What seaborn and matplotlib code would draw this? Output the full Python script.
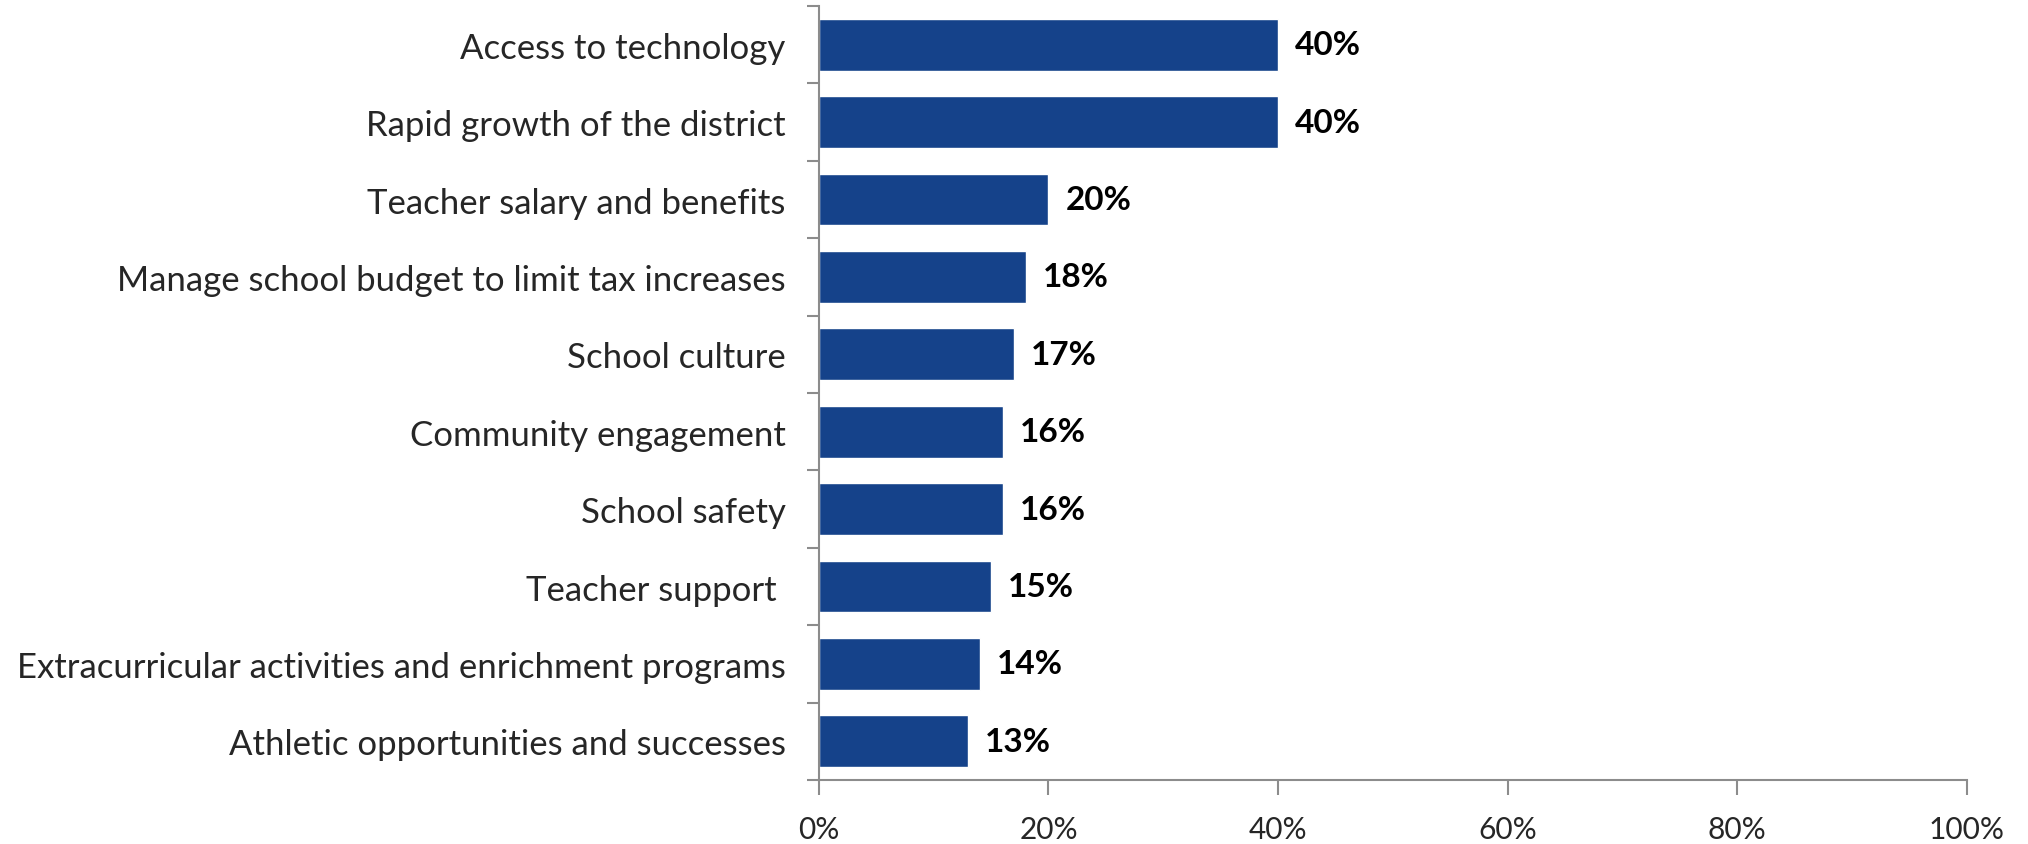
import numpy as np
import pandas as pd
import matplotlib
matplotlib.use('Agg')
import matplotlib.pyplot as plt
import seaborn as sns

categories = ['Access to technology',
              'Rapid growth of the district',
              'Teacher salary and benefits',
              'Manage school budget to limit tax increases',
              'School culture',
              'Community engagement',
              'School safety',
              'Teacher support ',
              'Extracurricular activities and enrichment programs',
              'Athletic opportunities and successes']
values = [40, 40, 20, 18, 17, 16, 16, 15, 14, 13]
xticks = [0, 20, 40, 60, 80, 100]

barColor = '#15428A'
spineColor = '#8C8C8C'

sns.set_style('white')
plt.rcParams['font.family'] = ['Lato', 'DejaVu Sans']

df = pd.DataFrame({'Category': categories, 'Value': values})

fig = plt.figure(figsize=(20.28, 8.45), dpi=100)
ax = fig.add_axes([0.4038, 0.0757, 0.566, 0.916])
sns.barplot(data=df, x='Value', y='Category', color=barColor, saturation=1,
            width=0.67, ax=ax)

#Value labels at the end of each bar
for i, v in enumerate(values):
    ax.text(v + 1.5, i, f'{v}%', va='center', ha='left',
            fontsize=24, fontweight='bold', color='black')

ax.set_xlim(0, 100)
ax.set_ylim(len(categories) - 0.5, -0.5)
ax.set_xticks(xticks)
ax.set_xticklabels([f'{t}%' for t in xticks], fontsize=21.5)
ax.set_yticks(range(len(categories)))
ax.set_yticklabels(categories, fontsize=25)
ax.set_xlabel('')
ax.set_ylabel('')

#Category ticks sit between bars, label ticks hidden
ax.tick_params(axis='y', which='major', left=True, length=0, pad=24)
ax.set_yticks(np.arange(-0.5, len(categories), 1), minor=True)
ax.tick_params(axis='y', which='minor', left=True, length=9, width=1.5,
               color=spineColor, direction='out')
ax.tick_params(axis='x', bottom=True, length=11, width=1.5, color=spineColor,
               direction='out', pad=14)

for side in ['top', 'right']:
    ax.spines[side].set_visible(False)
for side in ['left', 'bottom']:
    ax.spines[side].set_color(spineColor)
    ax.spines[side].set_linewidth(1.5)

fig.savefig('out.png', dpi=100)
